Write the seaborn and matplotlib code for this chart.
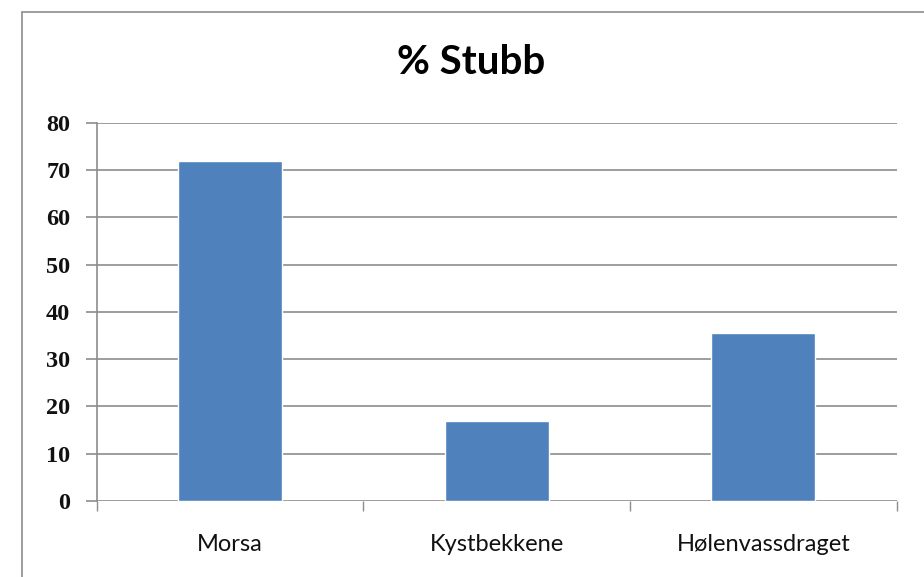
"""
% Stubb - bar chart per vassdrag
"""
import pandas as pd
import matplotlib.pyplot as plt
import matplotlib.patches as patches
import seaborn as sns

# Data
omrader = ["Morsa", "Kystbekkene", "Hølenvassdraget"]
stubb_pct = [72.0, 16.8, 35.5]
y_ticks = [0, 10, 20, 30, 40, 50, 60, 70, 80]

sns.set_theme(style="white")
plt.rcParams['font.family'] = ['Lato', 'DejaVu Sans']

df = pd.DataFrame({"Område": omrader, "Stubb": stubb_pct})

fig = plt.figure(figsize=(9.24, 5.77), dpi=100)
ax = fig.add_axes([0.1047, 0.1322, 0.8658, 0.6546])

# gridlines
for t in y_ticks:
    ax.axhline(t, color="#8c8c8c", lw=1.2, zorder=0)

sns.barplot(data=df, x="Område", y="Stubb", color="#4F81BD", saturation=1,
            width=0.39, ax=ax, zorder=2)

ax.set_xlim(-0.5, len(omrader) - 0.5)
ax.set_ylim(0, 80)
ax.set_yticks(y_ticks)
ax.set_xlabel("")
ax.set_ylabel("")

for s in ["top", "right", "bottom"]:
    ax.spines[s].set_visible(False)
ax.spines["left"].set_color("#8c8c8c")
ax.spines["left"].set_linewidth(1.2)

# tick marks between categories
ax.set_xticks([i - 0.5 for i in range(len(omrader) + 1)], minor=True)
ax.tick_params(axis="x", which="minor", length=7, width=1, color="#8c8c8c",
               direction="out", bottom=True)
ax.tick_params(axis="x", which="major", length=0, pad=24, labelsize=17,
               labelcolor="#111111")
ax.tick_params(axis="y", length=8, width=1.2, color="#8c8c8c", direction="out",
               left=True, pad=11, labelsize=17.5, labelcolor="#111111")
for lbl in ax.get_yticklabels():
    lbl.set_family(["Liberation Serif", "DejaVu Serif"])
    lbl.set_weight("bold")

fig.text(471 / 924, 1 - 62 / 577, "% Stubb", ha="center", va="center",
         fontsize=29, fontweight="bold", color="black")

# outer chart border
fig.patches.append(patches.Rectangle((21.7 / 924, -0.05), 1.0, 1 - 11.7 / 577 + 0.05,
                                     transform=fig.transFigure, fill=False,
                                     edgecolor="#8c8c8c", lw=1.2))

fig.savefig("out.png", dpi=100)
